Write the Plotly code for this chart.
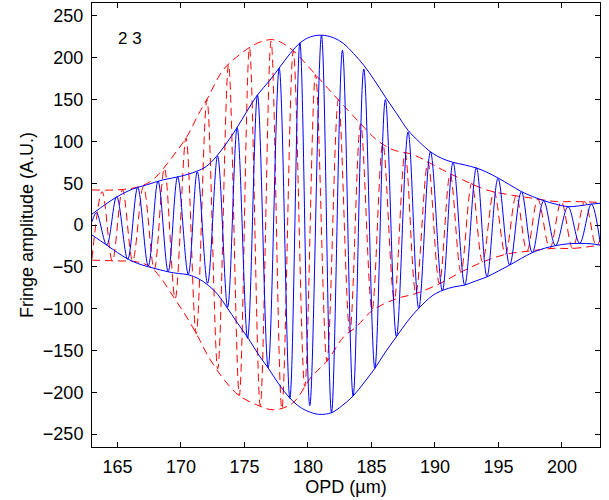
import plotly.graph_objects as go

# ---- data ----
# blue fringe: extrema (x in µm, amplitude)
blue_x = [163.0, 163.35, 164.16, 164.94, 165.81, 166.6, 167.43, 168.2, 169.0, 169.74,
          170.58, 171.29, 172.1, 172.89, 173.68, 174.43, 175.25, 176.03, 176.87, 177.74,
          178.58, 179.37, 180.15, 181.07, 181.86, 182.72, 183.56, 184.4, 185.27, 186.1,
          186.97, 187.89, 188.73, 189.65, 190.59, 191.43, 192.35, 193.27, 194.1, 194.97,
          195.89, 196.81, 197.67, 198.56, 199.5, 200.48, 201.4, 202.32, 203.0]
blue_y = [4, 14.7, -23.9, 34, -41, 45, -49, 52.6, -55.9, 57.8,
          -59, 63.8, -69.7, 82.5, -98.5, 116.4, -135.5, 155.5, -170.7, 187.4,
          -207.3, 218, -216, 227, -224.5, 209, -204.5, 186.6, -171.5, 150,
          -133.6, 111.3, -99.6, 87.7, -78.6, 75, -71.8, 68.5, -61.8, 55.8,
          -47.8, 39.8, -33.1, 28.7, -24.7, 21.9, -21.9, 25, -20]

blue_env_up_x = [163.0, 164.0, 165.0, 166.2, 167.3, 168.6, 169.9, 171.2, 172.0, 172.8,
                 173.6, 174.4, 175.2, 176.0, 177.0, 177.8, 178.6, 179.4, 180.2, 181.1,
                 182.0, 182.8, 183.6, 184.4, 185.2, 186.1, 187.0, 187.9, 188.8, 189.7,
                 190.5, 191.4, 192.3, 193.3, 194.1, 195.0, 195.9, 196.8, 197.7, 198.6,
                 199.5, 200.5, 201.4, 202.3, 203.0]
blue_env_up_y = [13, 24, 34, 43, 48, 54, 58, 64, 70, 82,
                 98, 116, 136, 155, 173, 189, 205, 218, 225, 227,
                 224, 217, 205, 191, 174, 153, 133, 113, 99, 87,
                 80, 75, 72, 68, 63, 56, 48, 40, 34, 29,
                 25, 22, 23, 25, 26]

blue_env_lo_x = [163.0, 164.16, 165.0, 165.86, 166.6, 167.43, 168.2, 169.0, 169.8, 170.58,
                 171.36, 172.15, 172.9, 173.6, 174.4, 175.3, 176.2, 176.87, 177.7, 178.58,
                 179.4, 180.2, 180.94, 181.86, 182.7, 183.56, 184.4, 185.27, 186.1, 186.97,
                 187.85, 188.73, 189.85, 190.64, 191.5, 192.35, 193.2, 194.1, 195.0, 195.9,
                 196.8, 197.67, 198.6, 199.5, 200.5, 201.4, 202.3, 203.0]
blue_env_lo_y = [-12, -24, -33, -41, -46, -50, -53, -56, -58, -59.5,
                 -64, -72, -83, -98, -116, -135.5, -157, -171, -190, -207,
                 -218, -224, -226.5, -224.5, -216, -204.5, -189, -171.5, -152, -133.6,
                 -115, -99.6, -84, -78, -74, -71.8, -67, -62, -55, -47.8,
                 -40, -33, -28, -24.7, -22.5, -22, -22.5, -24]

# red (dashed) fringe: extrema
red_x = [163.0, 163.8, 164.6, 165.4, 166.2, 167.05, 167.9, 168.7, 169.55, 170.4,
         171.2, 172.05, 172.9, 173.75, 174.6, 175.4, 176.25, 177.1, 177.95, 178.85,
         179.75, 180.6, 181.5, 182.4, 183.3, 184.15, 185.05, 185.9, 186.8, 187.65,
         188.5, 189.45, 190.35, 191.2, 192.05, 192.9, 193.75, 194.65, 195.55, 196.4,
         197.25, 198.1, 199.05, 199.95, 200.85, 201.8, 202.7, 203.0]
red_y = [-40, 40, -43, 42, -43, 46, -53, 68, -88, 104,
         -130, 150, -172, 192, -204, 212, -216, 220, -220, 208,
         -193, 180, -163, 150, -128, 121, -102, 97, -89, 86,
         -82, 75, -70, 61, -56, 50, -44, 40, -35, 35,
         -31, 31, -28, 28, -28, 28, -25, -18]

red_env_up_x = [163.0, 165.0, 166.5, 167.5, 168.2, 168.9, 169.7, 170.45, 171.4, 172.15,
                173.3, 174.4, 175.7, 176.7, 177.5, 178.8, 180.3, 181.6, 182.8, 184.1,
                185.4, 186.7, 188.3, 190.6, 192.2, 194.05, 195.9, 197.7, 199.56, 201.1,
                203.0]
red_env_up_y = [42, 42, 45, 51, 60, 73, 89, 105, 133, 153,
                185, 201, 215, 221, 221, 209, 185, 163, 143, 122,
                102, 90, 84, 66, 54, 42, 36, 32, 28, 28,
                27]

red_env_lo_x = [163.0, 165.0, 166.5, 167.6, 168.35, 169.5, 170.45, 171.36, 172.15, 173.3,
                174.5, 175.96, 177.3, 178.8, 180.3, 181.5, 182.8, 183.8, 185.1, 187.0,
                188.5, 190.4, 192.1, 193.8, 195.6, 197.5, 199.3, 200.87, 203.0]
red_env_lo_y = [-42, -43, -44, -50, -62, -88, -110, -134, -157, -183,
                -203, -215, -221, -213, -181, -163, -134, -122, -102, -88,
                -82, -70, -56, -44, -35, -31, -28, -28, -24]

x_ticks = [165, 170, 175, 180, 185, 190, 195, 200]
y_ticks = [-250, -200, -150, -100, -50, 0, 50, 100, 150, 200, 250]
y_tick_text = [("\u2212" + str(-v)) if v < 0 else str(v) for v in y_ticks]

BLUE = "#0000ff"
RED = "#ff0000"
FONT = "Liberation Sans, Arial, Helvetica, sans-serif"

fig = go.Figure()

# red dashed traces
for xs, ys in [(red_x, red_y), (red_env_up_x, red_env_up_y), (red_env_lo_x, red_env_lo_y)]:
    fig.add_trace(go.Scatter(x=xs, y=ys, mode="lines",
                             line=dict(color=RED, width=1, dash="8px,5px", shape="spline", smoothing=1),
                             showlegend=False, hoverinfo="skip"))

# blue solid traces
for xs, ys in [(blue_x, blue_y), (blue_env_up_x, blue_env_up_y), (blue_env_lo_x, blue_env_lo_y)]:
    fig.add_trace(go.Scatter(x=xs, y=ys, mode="lines",
                             line=dict(color=BLUE, width=1, shape="spline", smoothing=1),
                             showlegend=False, hoverinfo="skip"))

fig.add_annotation(x=166.0, y=223, text="2 3", showarrow=False,
                   xanchor="center", yanchor="middle",
                   font=dict(family=FONT, size=17, color="black"))

axis_common = dict(showgrid=False, zeroline=False, showline=True, linecolor="black",
                   linewidth=1, mirror="ticks", ticks="inside", ticklen=5,
                   tickcolor="black", tickwidth=1, automargin=False,
                   tickfont=dict(family=FONT, size=18, color="black"))

fig.update_xaxes(range=[163, 203], tickvals=x_ticks,
                 ticktext=[str(v) for v in x_ticks],
                 title=dict(text="OPD (\u00b5m)", font=dict(family=FONT, size=18, color="black"),
                            standoff=2),
                 ticklabelstandoff=3, **axis_common)
fig.update_yaxes(range=[-265.5, 265.5], tickvals=y_ticks, ticktext=y_tick_text,
                 title=dict(text="Fringe amplitude (A.U.)",
                            font=dict(family=FONT, size=18, color="black"), standoff=4),
                 ticklabelstandoff=4, **axis_common)

fig.update_layout(width=609, height=500,
                  margin=dict(l=92, r=9, t=3, b=53, autoexpand=False),
                  paper_bgcolor="white", plot_bgcolor="white",
                  font=dict(family=FONT, color="black"))

fig.write_html("out.html", config={"displayModeBar": False},
               post_script="document.body.style.margin='0px';document.body.style.padding='0px';")
